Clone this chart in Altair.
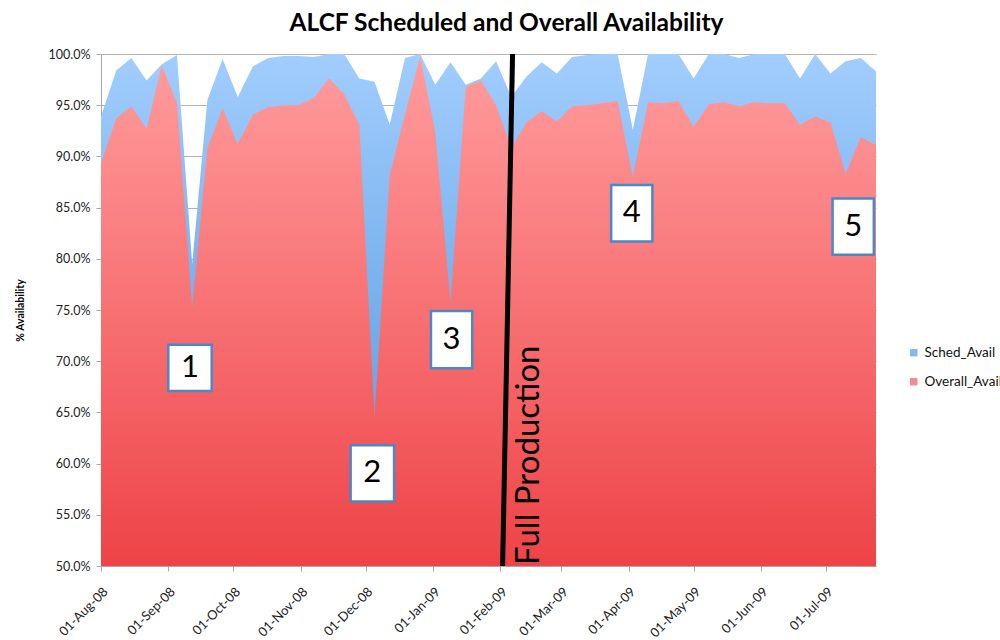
import altair as alt
import pandas as pd

# Weekly availability, first week starting 01-Aug-2008
start_date = "2008-08-01"
week_count = 52

sched_avail = [
    93.9, 98.4, 99.6, 97.4, 99.0, 99.9, 79.5, 95.5, 99.5, 95.8,
    98.8, 99.6, 99.8, 99.8, 99.7, 100.0, 100.0, 97.6, 97.3, 93.1,
    99.6, 100.0, 97.0, 99.2, 97.0, 97.6, 99.3, 95.8, 97.8, 99.2,
    98.1, 99.7, 99.9, 100.0, 100.0, 92.6, 100.0, 100.0, 100.0, 97.6,
    100.0, 100.0, 99.6, 100.0, 100.0, 100.0, 97.6, 100.0, 98.1, 99.3,
    99.6, 98.3,
]
overall_avail = [
    89.3, 93.7, 94.9, 92.7, 98.9, 95.2, 75.3, 90.8, 94.7, 91.2,
    94.1, 94.8, 95.0, 95.0, 95.7, 97.6, 96.1, 93.1, 64.6, 88.2,
    94.1, 99.8, 92.3, 75.8, 96.8, 97.4, 95.0, 90.8, 93.3, 94.4,
    93.4, 94.9, 95.0, 95.2, 95.4, 88.0, 95.3, 95.2, 95.4, 92.9,
    95.1, 95.3, 94.9, 95.3, 95.2, 95.2, 93.1, 93.9, 93.3, 88.3,
    91.9, 91.1,
]

series_names = ["Sched_Avail", "Overall_Avail"]
series_colors = ["#4E9BE6", "#F2585B"]

x_start = (2008, 8, 1)
x_end = (2009, 7, 24)
month_ticks = [(2008, m) for m in range(8, 13)] + [(2009, m) for m in range(1, 8)]
y_ticks = [50, 55, 60, 65, 70, 75, 80, 85, 90, 95, 100]
y_title = "% Availability"

# Numbered call-out boxes
box_labels = ["1", "2", "3", "4", "5"]
box_start = ["2008-09-01", "2008-11-24", "2008-12-31", "2009-03-24", "2009-07-04"]
box_end = ["2008-09-21", "2008-12-14", "2009-01-19", "2009-04-12", "2009-07-23"]
box_top = [71.6, 61.8, 74.9, 87.2, 85.9]
box_bottom = [67.1, 56.3, 69.3, 81.7, 80.4]

# Production start marker
marker_top = ["2009-02-06T14:00:00Z"]
marker_bottom = ["2009-02-02T00:00:00Z"]
marker_text = ["Full Production"]
marker_text_date = ["2009-02-14T00:00:00Z"]
marker_text_value = [50.1]

dates = pd.date_range(start_date, periods=week_count, freq="7D").strftime("%Y-%m-%d")
df = pd.DataFrame({"date": dates, "sched": sched_avail, "overall": overall_avail})

s = pd.to_datetime(pd.Series(box_start))
e = pd.to_datetime(pd.Series(box_end))
boxes = pd.DataFrame({
    "label": box_labels,
    "start": box_start,
    "end": box_end,
    "top": box_top,
    "bottom": box_bottom,
    "mid": (s + (e - s) / 2).dt.strftime("%Y-%m-%dT%H:%M:%SZ"),
    "center": [(a + b) / 2 for a, b in zip(box_top, box_bottom)],
})
marker = pd.DataFrame({"top": marker_top, "bottom": marker_bottom, "y1": [100], "y2": [50]})
marker_lbl = pd.DataFrame({"text": marker_text, "date": marker_text_date, "v": marker_text_value})
legend_df = pd.DataFrame({"series": series_names})

FONT = "Lato"

x_scale = alt.Scale(
    type="utc", nice=False,
    domain=[alt.DateTime(year=x_start[0], month=x_start[1], date=x_start[2], utc=True),
            alt.DateTime(year=x_end[0], month=x_end[1], date=x_end[2], utc=True)],
)
y_scale = alt.Scale(domain=[50, 100], nice=False, zero=False)

x_axis = alt.Axis(
    labelExpr="utcFormat(datum.value, '%d-%b-%y')",
    values=[alt.DateTime(year=y, month=m, date=1, utc=True) for y, m in month_ticks],
    labelAngle=315, labelAlign="right", labelBaseline="top", labelPadding=14,
    grid=False, tickSize=5, labelFontSize=13,
)
y_axis = alt.Axis(
    values=y_ticks,
    labelExpr="format(datum.value, '.1f') + '%'",
    grid=True, tickSize=5, labelPadding=6,
    titleX=-81, titleY=256, titleAngle=270, titleAlign="center", titleBaseline="middle",
    titleFontSize=10.5, titleFontWeight="bold",
)


def X(field):
    return alt.X(field, scale=x_scale, title=None, axis=x_axis)


def Y(field):
    return alt.Y(field, scale=y_scale, title=y_title, axis=y_axis)


def gradient(bottom, mid, top):
    return {
        "gradient": "linear", "x1": 0, "y1": 1, "x2": 0, "y2": 0,
        "stops": [
            {"offset": 0, "color": bottom},
            {"offset": 0.6, "color": mid},
            {"offset": 1, "color": top},
        ],
    }


base = alt.Chart(df)

sched_area = base.mark_area(clip=True, fill=gradient("#5596DA", "#7DB5EE", "#A2CDFE")).encode(
    x=X("date:T"),
    y=Y("sched:Q"),
    y2=alt.datum(50),
)
overall_area = base.mark_area(clip=True, fill=gradient("#EE4347", "#F97A7C", "#FF9C9D")).encode(
    x=X("date:T"),
    y=Y("overall:Q"),
    y2=alt.datum(50),
)

marker_rule = alt.Chart(marker).mark_rule(color="black", strokeWidth=5).encode(
    x=X("top:T"),
    x2="bottom:T",
    y=Y("y1:Q"),
    y2="y2:Q",
)
marker_label = alt.Chart(marker_lbl).mark_text(
    angle=270, align="left", baseline="middle", fontSize=33, font=FONT, color="black",
).encode(
    x=X("date:T"),
    y=Y("v:Q"),
    text="text:N",
)

box_rects = alt.Chart(boxes).mark_rect(fill="white", stroke="#4A88C8", strokeWidth=2.5).encode(
    x=X("start:T"),
    x2="end:T",
    y=Y("top:Q"),
    y2="bottom:Q",
)
box_text = alt.Chart(boxes).mark_text(fontSize=31, font=FONT, color="black", baseline="middle").encode(
    x=X("mid:T"),
    y=Y("center:Q"),
    text="label:N",
)

legend_layer = alt.Chart(legend_df).mark_square().encode(
    color=alt.Color(
        "series:N",
        scale=alt.Scale(domain=series_names, range=series_colors),
        legend=alt.Legend(
            title=None, orient="none", legendX=806, legendY=292,
            symbolType="square", symbolSize=55, symbolStrokeWidth=0,
            labelFontSize=13.5, labelFont=FONT, labelColor="#111",
            rowPadding=14, labelOffset=4,
        ),
    ),
).transform_filter("false")

chart = alt.layer(
    sched_area, overall_area, marker_rule, marker_label, box_rects, box_text, legend_layer
).properties(
    width=775,
    height=512,
    padding={"left": 101, "top": 54, "right": 124, "bottom": 74},
    autosize=alt.AutoSizeParams(type="none"),
    title=alt.TitleParams(
        "ALCF Scheduled and Overall Availability",
        font=FONT, fontSize=24.5, fontWeight="bold", color="#000",
        anchor="middle", dx=18, offset=12,
    ),
).configure_view(stroke=None).configure_axis(
    labelFont=FONT, labelFontSize=12.5, labelColor="#222",
    titleFont=FONT, titleColor="#000",
    domainColor="#A8A8A8", tickColor="#A8A8A8", gridColor="#B4B4B4", gridWidth=1.2,
)

chart.save("out.html", embed_options={"renderer": "svg", "actions": False})
